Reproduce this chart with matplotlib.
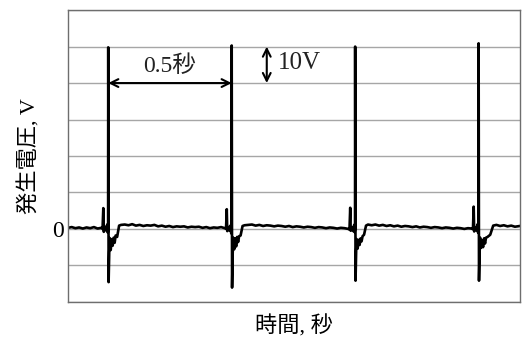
# Import libraries
import matplotlib.pyplot as plt
import numpy as np

# Fonts: serif for latin, CJK fallback
plt.rcParams['font.family'] = ['Liberation Serif', 'Noto Sans CJK JP']

# Waveform: time (s) and voltage (V)
time_s = [
    # baseline before pulse 1
    0.000, 0.015, 0.030, 0.045, 0.060, 0.075, 0.090, 0.105, 0.120, 0.135,
    # pulse 1
    0.140, 0.142, 0.143, 0.145, 0.150, 0.155, 0.159, 0.161, 0.1625, 0.163, 0.1645,
    0.167, 0.169, 0.173, 0.177, 0.181, 0.185, 0.189, 0.193, 0.199, 0.207, 0.215,
    # baseline
    0.230, 0.245, 0.260, 0.275, 0.290, 0.305, 0.320, 0.335, 0.350, 0.365, 0.380,
    0.395, 0.410, 0.425, 0.440, 0.455, 0.470, 0.485, 0.500, 0.515, 0.530, 0.545,
    0.560, 0.575, 0.590, 0.605, 0.620, 0.635,
    # pulse 2
    0.640, 0.642, 0.643, 0.645, 0.650, 0.655, 0.659, 0.661, 0.6625, 0.663, 0.6645,
    0.667, 0.669, 0.673, 0.677, 0.681, 0.685, 0.689, 0.693, 0.699, 0.707, 0.715,
    # baseline
    0.730, 0.745, 0.760, 0.775, 0.790, 0.805, 0.820, 0.835, 0.850, 0.865, 0.880,
    0.895, 0.910, 0.925, 0.940, 0.955, 0.970, 0.985, 1.000, 1.015, 1.030, 1.045,
    1.060, 1.075, 1.090, 1.105, 1.120, 1.135,
    # pulse 3
    1.140, 1.142, 1.143, 1.145, 1.150, 1.155, 1.159, 1.161, 1.1625, 1.163, 1.1645,
    1.167, 1.169, 1.173, 1.177, 1.181, 1.185, 1.189, 1.193, 1.199, 1.207, 1.215,
    # baseline
    1.230, 1.245, 1.260, 1.275, 1.290, 1.305, 1.320, 1.335, 1.350, 1.365, 1.380,
    1.395, 1.410, 1.425, 1.440, 1.455, 1.470, 1.485, 1.500, 1.515, 1.530, 1.545,
    1.560, 1.575, 1.590, 1.605, 1.620, 1.635,
    # pulse 4
    1.640, 1.642, 1.643, 1.645, 1.650, 1.655, 1.659, 1.661, 1.6625, 1.663, 1.6645,
    1.667, 1.669, 1.673, 1.677, 1.681, 1.685, 1.689, 1.693, 1.699, 1.710, 1.722,
    # baseline to the end
    1.735, 1.750, 1.765, 1.780, 1.795, 1.810, 1.830,
]

volts = [
    0.3, 0.5, 0.2, 0.4, 0.1, 0.4, 0.2, 0.5, 0.1, 0.3,
    0.0, 4.0, 5.7, -0.8, 0.6, -0.4, 1.2, -1.0, 0.5, 49.8, -14.6,
    -6.5, -2.5, -5.8, -2.8, -4.6, -2.4, -3.8, -1.8, -2.2, 0.9, 1.1,
    1.2, 1.0, 1.3, 0.9, 1.1, 0.8, 1.0, 0.9, 1.1, 0.7, 0.9,
    0.6, 0.8, 0.5, 0.7, 0.6, 0.7, 0.4, 0.6, 0.5, 0.6, 0.3,
    0.5, 0.2, 0.4, 0.3, 0.5, 0.2,
    0.0, 3.8, 5.4, -0.6, 0.5, -0.5, 1.0, -1.2, 0.4, 50.3, -16.1,
    -6.8, -2.4, -5.6, -2.6, -4.8, -2.2, -3.6, -2.0, -1.8, 0.8, 1.0,
    1.1, 1.2, 0.9, 1.1, 0.8, 1.0, 0.9, 0.7, 0.9, 0.8, 0.6,
    0.8, 0.5, 0.7, 0.6, 0.4, 0.6, 0.5, 0.3, 0.5, 0.4, 0.2,
    0.4, 0.3, 0.1, 0.3, 0.2, 0.0,
    -0.2, 4.2, 5.8, -0.5, 0.4, -0.6, 1.1, -0.9, 0.3, 50.0, -14.2,
    -6.2, -2.8, -5.4, -3.0, -4.4, -2.6, -3.4, -2.0, -1.6, 0.9, 1.2,
    1.0, 1.2, 0.9, 1.1, 0.8, 1.0, 0.7, 0.9, 0.6, 0.8, 0.7,
    0.5, 0.7, 0.4, 0.6, 0.5, 0.3, 0.5, 0.4, 0.2, 0.4, 0.3,
    0.1, 0.3, 0.2, 0.0, 0.2, 0.1,
    -0.1, 4.4, 6.1, -0.7, 0.5, -0.4, 1.3, -1.1, 0.4, 50.9, -14.2,
    -6.6, -2.4, -5.2, -3.2, -5.0, -2.6, -4.0, -2.4, -2.2, -1.6, 0.9,
    1.1, 0.8, 1.0, 0.7, 0.9, 0.6, 0.8,
]

# Annotation values
pulse_start = 0.163
pulse_next = 0.663
scale_x = 0.805
scale_lo = 40
scale_hi = 50

# Figure and axes
fig = plt.figure(figsize=(5.23, 3.38), dpi=100)
ax = fig.add_axes([0.130, 0.107, 0.864, 0.863])

# Horizontal grid every 10 V
ax.set_yticks(np.arange(-20, 61, 10))
ax.set_yticklabels(['0' if v == 0 else '' for v in np.arange(-20, 61, 10)], fontsize=17)
ax.yaxis.grid(True, color='#a6a6a6', linewidth=1.0)
ax.set_axisbelow(True)
ax.set_xticks([])
ax.tick_params(axis='y', length=0, pad=3)

# Plot the voltage trace
ax.plot(time_s, volts, color='black', linewidth=1.9)

ax.set_xlim(0, 1.83)
ax.set_ylim(-20, 60)

for s in ax.spines.values():
    s.set_color('#6e6e6e')
    s.set_linewidth(1.0)

# Period arrow
ax.annotate('', xy=(pulse_start, 40), xytext=(pulse_next, 40),
            arrowprops=dict(arrowstyle='<->', color='black', lw=1.5,
                            shrinkA=0, shrinkB=0, mutation_scale=14))
ax.text((pulse_start + pulse_next) / 2, 44.6, '0.5秒', fontsize=17,
        ha='center', va='center', color='#222222')

# Scale arrow
ax.annotate('', xy=(scale_x, scale_hi), xytext=(scale_x, scale_lo),
            arrowprops=dict(arrowstyle='<->', color='black', lw=1.5,
                            shrinkA=0, shrinkB=0, mutation_scale=14))
ax.text(0.851, 45.4, '10V', fontsize=18, ha='left', va='center', color='#222222')

# Axis labels
ax.set_xlabel('時間, 秒', fontsize=16, labelpad=10)
ax.set_ylabel('発生電圧, V', fontsize=16, labelpad=8)

plt.savefig('out.png', dpi=100)
